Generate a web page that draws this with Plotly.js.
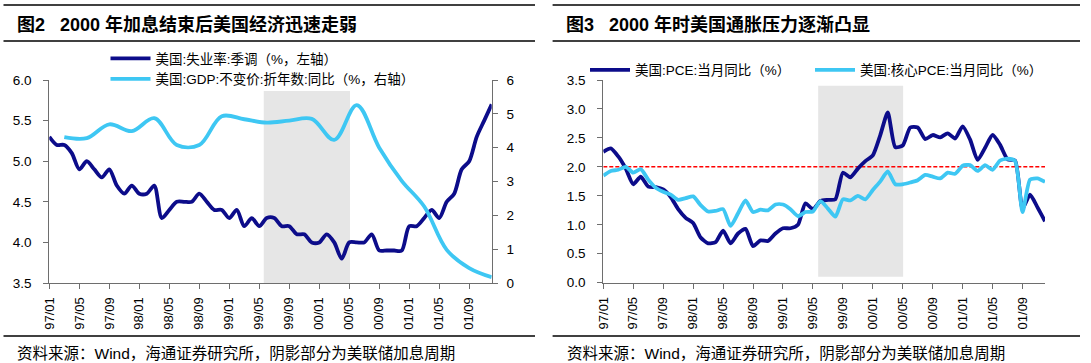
<!DOCTYPE html>
<html>
<head>
<meta charset="utf-8">
<script src="https://cdn.plot.ly/plotly-3.0.1.min.js"></script>
<style>
html,body{margin:0;padding:0;background:#ffffff;}
#chart{width:1091px;height:363px;}
</style>
</head>
<body>
<div id="chart"></div>
<script>
// ---------- data ----------
const months = [
 '97/01','97/02','97/03','97/04','97/05','97/06','97/07','97/08','97/09','97/10','97/11','97/12',
 '98/01','98/02','98/03','98/04','98/05','98/06','98/07','98/08','98/09','98/10','98/11','98/12',
 '99/01','99/02','99/03','99/04','99/05','99/06','99/07','99/08','99/09','99/10','99/11','99/12',
 '00/01','00/02','00/03','00/04','00/05','00/06','00/07','00/08','00/09','00/10','00/11','00/12',
 '01/01','01/02','01/03','01/04','01/05','01/06','01/07','01/08','01/09','01/10','01/11','01/12'
];
const tickLabels = ['97/01','97/05','97/09','98/01','98/05','98/09','99/01','99/05','99/09','00/01','00/05','00/09','01/01','01/05','01/09'];

// 美国:失业率:季调 (%, 左轴)
const unemployment = [
 5.3,5.2,5.2,5.1,4.9,5.0,4.9,4.8,4.9,4.7,4.6,4.7,
 4.6,4.6,4.7,4.3,4.4,4.5,4.5,4.5,4.6,4.5,4.4,4.4,
 4.3,4.4,4.2,4.3,4.2,4.3,4.3,4.2,4.2,4.1,4.1,4.0,
 4.0,4.1,4.0,3.8,4.0,4.0,4.0,4.1,3.9,3.9,3.9,3.9,
 4.2,4.2,4.3,4.4,4.3,4.5,4.6,4.9,5.0,5.3,5.5,5.7
];

// 美国:GDP:不变价:折年数:同比 (%, 右轴), quarterly
const gdpQuarters = ['97/03','97/06','97/09','97/12','98/03','98/06','98/09','98/12','99/03','99/06',
                     '99/09','99/12','00/03','00/06','00/09','00/12','01/03','01/06','01/09','01/12'];
const gdp = [4.31,4.28,4.69,4.49,4.87,4.08,4.08,4.93,4.84,4.74,
             4.80,4.85,4.23,5.26,4.00,3.02,2.26,0.98,0.44,0.17];

// 美国:PCE:当月同比 (%)
const pce = [
 2.26,2.32,2.18,1.97,1.70,1.83,1.66,1.65,1.61,1.48,1.27,1.12,
 1.03,0.78,0.68,0.70,0.90,0.68,0.85,0.93,0.63,0.73,0.72,0.85,
 0.94,0.94,1.00,1.37,1.27,1.41,1.43,1.44,1.90,1.82,1.97,2.10,
 2.20,2.55,2.94,2.34,2.37,2.68,2.68,2.48,2.55,2.51,2.58,2.49,
 2.70,2.47,2.12,2.33,2.55,2.38,2.13,2.11,1.28,1.52,1.30,1.06
];
// 美国:核心PCE:当月同比 (%)
const corePce = [
 1.85,1.93,1.95,2.00,1.90,1.96,1.78,1.64,1.57,1.52,1.43,1.46,
 1.49,1.34,1.23,1.24,1.27,0.98,1.20,1.42,1.22,1.26,1.25,1.35,
 1.35,1.27,1.15,1.22,1.23,1.41,1.28,1.14,1.44,1.42,1.50,1.44,
 1.60,1.75,1.92,1.70,1.70,1.73,1.77,1.86,1.83,1.80,1.90,1.88,
 2.02,2.03,1.93,2.03,1.95,2.11,2.14,2.10,1.22,1.78,1.80,1.74
];
const pceTarget = 2.0;

// ---------- layout helpers ----------
const W = 1091, H = 363;
const px = v => v / W;
const py = v => 1 - v / H;
const tickIdx = tickLabels.map(l => months.indexOf(l));

const NAVY = '#0c0c8a';
const SKY = '#3ec7f3';
const AXIS = '#6e6e6e';
const FONT = 'Liberation Sans, Arial, Noto Sans CJK SC, sans-serif';

const traces = [
  {x: months, y: unemployment, xaxis:'x', yaxis:'y', type:'scatter', mode:'lines',
   name:'美国:失业率:季调（%，左轴）', line:{color:NAVY, width:3.8, shape:'spline', smoothing:0.8},
   legend:'legend', legendgroup:'a'},
  {x: gdpQuarters, y: gdp, xaxis:'x', yaxis:'y2', type:'scatter', mode:'lines',
   name:'美国:GDP:不变价:折年数:同比（%，右轴）', line:{color:SKY, width:3.8, shape:'spline', smoothing:1},
   legend:'legend', legendgroup:'b'},
  {x: months, y: pce, xaxis:'x2', yaxis:'y3', type:'scatter', mode:'lines',
   name:'美国:PCE:当月同比（%）', line:{color:NAVY, width:3.8, shape:'spline', smoothing:0.6},
   legend:'legend2'},
  {x: months, y: corePce, xaxis:'x2', yaxis:'y3', type:'scatter', mode:'lines',
   name:'美国:核心PCE:当月同比（%）', line:{color:SKY, width:3.8, shape:'spline', smoothing:0.6},
   legend:'legend2'}
];

const xCommon = {
  type:'category', categoryorder:'array', categoryarray: months, range:[0, months.length-1],
  tickmode:'array', tickvals: tickIdx, ticktext: tickLabels, tickangle:-90,
  ticks:'outside', ticklen:5, tickwidth:1, tickcolor:AXIS, ticklabelstandoff:3,
  showline:true, linecolor:AXIS, linewidth:1, showgrid:false, zeroline:false,
  tickfont:{family:FONT, size:13, color:'#000'}, fixedrange:true
};
const yCommon = {
  ticks:'outside', ticklen:5, tickwidth:1, tickcolor:AXIS,
  showline:true, linecolor:AXIS, linewidth:1, showgrid:false, zeroline:false,
  tickfont:{family:FONT, size:13.5, color:'#000'}, fixedrange:true
};

const layout = {
  width: W, height: H,
  margin:{l:0, r:0, t:0, b:0, pad:0},
  paper_bgcolor:'#ffffff', plot_bgcolor:'rgba(0,0,0,0)',
  font:{family:FONT, size:13, color:'#000'},
  showlegend:true,
  xaxis: Object.assign({}, xCommon, {domain:[px(49.3), px(491.7)], anchor:'y'}),
  yaxis: Object.assign({}, yCommon, {domain:[py(283), py(80)], range:[3.5, 6.0], tick0:3.5, dtick:0.5,
          tickformat:'.1f', anchor:'x', ticklabelstandoff:9}),
  yaxis2: Object.assign({}, yCommon, {overlaying:'y', side:'right', anchor:'x', range:[0, 6], tick0:0, dtick:1,
          ticklabelstandoff:6}),
  xaxis2: Object.assign({}, xCommon, {domain:[px(603.3), px(1045)], anchor:'y3'}),
  yaxis3: Object.assign({}, yCommon, {domain:[py(282.7), py(80)], range:[0, 3.5], tick0:0, dtick:0.5,
          tickformat:'.1f', anchor:'x2', ticklabelstandoff:9}),
  legend:{x:px(105.5), y:py(43), xanchor:'left', yanchor:'top', orientation:'v',
          bgcolor:'rgba(0,0,0,0)', borderwidth:0, itemwidth:40, tracegroupgap:0,
          traceorder:'grouped', font:{family:FONT, size:13.5, color:'#000'}},
  legend2:{x:px(585), y:py(54.5), xanchor:'left', yanchor:'top', orientation:'h',
          bgcolor:'rgba(0,0,0,0)', borderwidth:0, itemwidth:40, entrywidth:170, entrywidthmode:'pixels',
          font:{family:FONT, size:13.5, color:'#000'}},
  shapes:[
    // rate-hike cycle shading
    {type:'rect', layer:'below', xref:'x', yref:'paper', x0:28.6, x1:40.1, y0:py(283), y1:py(91),
     fillcolor:'#e6e6e6', line:{width:0}},
    {type:'rect', layer:'below', xref:'x2', yref:'paper', x0:28.7, x1:40.05, y0:py(276.7), y1:py(85.7),
     fillcolor:'#e6e6e6', line:{width:0}},
    // 2% reference line
    {type:'line', layer:'below', xref:'x2', yref:'y3', x0:0, x1:months.length-1, y0:pceTarget, y1:pceTarget,
     line:{color:'#ff0000', width:1.5, dash:'4px,2px'}},
    // rules
    {type:'line', xref:'paper', yref:'paper', x0:px(3.5), x1:px(535), y0:py(5), y1:py(5), line:{color:'#000', width:1.6}},
    {type:'line', xref:'paper', yref:'paper', x0:px(3.5), x1:px(535), y0:py(41), y1:py(41), line:{color:'#000', width:1.3}},
    {type:'line', xref:'paper', yref:'paper', x0:px(3.5), x1:px(535), y0:py(336), y1:py(336), line:{color:'#000', width:1.3}},
    {type:'line', xref:'paper', yref:'paper', x0:px(552.6), x1:px(1080), y0:py(5), y1:py(5), line:{color:'#000', width:1.6}},
    {type:'line', xref:'paper', yref:'paper', x0:px(552.6), x1:px(1080), y0:py(41), y1:py(41), line:{color:'#000', width:1.3}},
    {type:'line', xref:'paper', yref:'paper', x0:px(552.6), x1:px(1080), y0:py(336), y1:py(336), line:{color:'#000', width:1.3}}
  ],
  annotations:[
    {xref:'paper', yref:'paper', x:px(15), y:py(24), xanchor:'left', yanchor:'middle', showarrow:false,
     text:'图2\u00a0\u00a0\u00a02000 年加息结束后美国经济迅速走弱',
     font:{family:FONT, size:18, color:'#000', weight:'bold'}},
    {xref:'paper', yref:'paper', x:px(564), y:py(24), xanchor:'left', yanchor:'middle', showarrow:false,
     text:'图3\u00a0\u00a0\u00a02000 年时美国通胀压力逐渐凸显',
     font:{family:FONT, size:18, color:'#000', weight:'bold'}},
    {xref:'paper', yref:'paper', x:px(15), y:py(353), xanchor:'left', yanchor:'middle', showarrow:false,
     text:'资料来源：Wind，海通证券研究所，阴影部分为美联储加息周期',
     font:{family:FONT, size:15.5, color:'#000'}},
    {xref:'paper', yref:'paper', x:px(565), y:py(353), xanchor:'left', yanchor:'middle', showarrow:false,
     text:'资料来源：Wind，海通证券研究所，阴影部分为美联储加息周期',
     font:{family:FONT, size:15.5, color:'#000'}}
  ]
};

Plotly.newPlot('chart', traces, layout, {displayModeBar:false, staticPlot:true});
</script>
</body>
</html>
